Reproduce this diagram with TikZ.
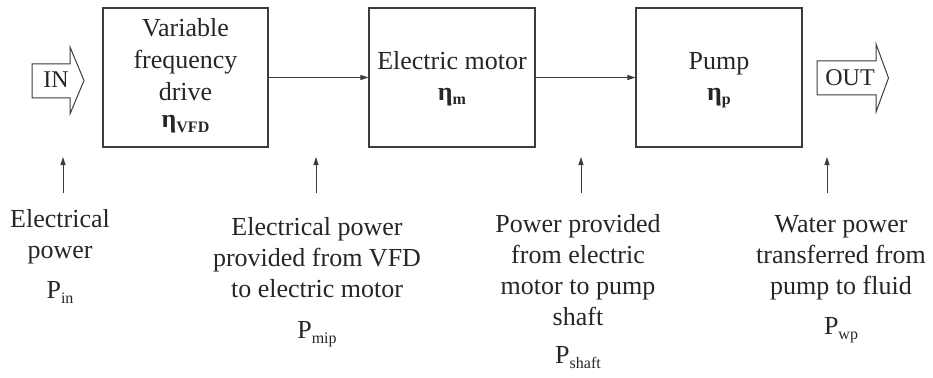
\documentclass[tikz,border=0pt]{standalone}
\usepackage{fontspec}
\setmainfont{Liberation Serif}
\usetikzlibrary{arrows.meta}
\definecolor{linecol}{HTML}{3C3C3C}
\definecolor{txtcol}{HTML}{262626}
\newcommand{\lowsub}[1]{\raisebox{-5pt}{\fontsize{16}{16}\selectfont #1}}
\newcommand{\etasub}[1]{\textbf{η}\raisebox{-5pt}{\fontsize{16}{16}\selectfont\bfseries #1}}
\begin{document}
\begin{tikzpicture}[x=1pt,y=-1pt,
  blk/.style={draw=linecol, line width=1.1pt, minimum height=139pt, inner sep=0pt},
  txt/.style={anchor=base, inner sep=0pt, text=txtcol, font=\fontsize{26}{31}\selectfont},
  conn/.style={draw=linecol, line width=1pt, -{Triangle[length=8pt,width=5pt]}},
  bigarrow/.style={draw=linecol, line width=1pt, fill=white}]
\useasboundingbox (0,0) rectangle (933,377);

% boxes
\node[blk, minimum width=165pt] (vfd) at (185.5,77.5) {};
\node[blk, minimum width=166pt] (motor) at (452,77.5) {};
\node[blk, minimum width=166pt] (pump) at (719,77.5) {};

% box texts
\node[txt] (vfd1) at (185.5,37) {Variable};
\node[txt] (vfd2) at (185.5,69) {frequency};
\node[txt] (vfd3) at (185.5,100) {drive};
\node[txt] (vfd4) at (185.5,128) {\etasub{VFD}};
\node[txt] (mot1) at (452,70) {Electric motor};
\node[txt] (mot2) at (452,100) {\etasub{m}};
\node[txt] (pmp1) at (719,70) {Pump};
\node[txt] (pmp2) at (719,100) {\etasub{p}};

% connectors between boxes
\draw[conn] (vfd.east) -- (motor.west);
\draw[conn] (motor.east) -- (pump.west);

% IN / OUT block arrows
\draw[bigarrow] (32,64) -- (70,64) -- (70,47) -- (84,80.5) -- (70,114) -- (70,98) -- (32,98) -- cycle;
\node[txt, font=\fontsize{24}{28}\selectfont] (in) at (56,88) {IN};
\draw[bigarrow] (817,61) -- (876,61) -- (876,44) -- (888.5,78) -- (876,112) -- (876,95) -- (817,95) -- cycle;
\node[txt, font=\fontsize{24}{28}\selectfont] (out) at (850,86) {OUT};

% upward arrows
\coordinate (b1) at (63,193);   \coordinate (t1) at (63,157);
\coordinate (b2) at (316,193);  \coordinate (t2) at (316,157);
\coordinate (b3) at (581,193);  \coordinate (t3) at (581,157);
\coordinate (b4) at (827,193);  \coordinate (t4) at (827,157);
\draw[conn] (b1) -- (t1);
\draw[conn] (b2) -- (t2);
\draw[conn] (b3) -- (t3);
\draw[conn] (b4) -- (t4);

% labels
\node[txt] (l1) at (60,227) {\begin{tabular}[t]{@{}c@{}}Electrical\\power\\[9pt]P\lowsub{in}\end{tabular}};
\node[txt] (l2) at (317,235) {\begin{tabular}[t]{@{}c@{}}Electrical power\\provided from VFD\\to electric motor\\[10pt]P\lowsub{mip}\end{tabular}};
\node[txt] (l3) at (578,232) {\begin{tabular}[t]{@{}c@{}}Power provided\\from electric\\motor to pump\\shaft\\[7pt]P\lowsub{shaft}\end{tabular}};
\node[txt] (l4) at (841,232) {\begin{tabular}[t]{@{}c@{}}Water power\\transferred from\\pump to fluid\\[9pt]P\lowsub{wp}\end{tabular}};
\end{tikzpicture}
\end{document}
